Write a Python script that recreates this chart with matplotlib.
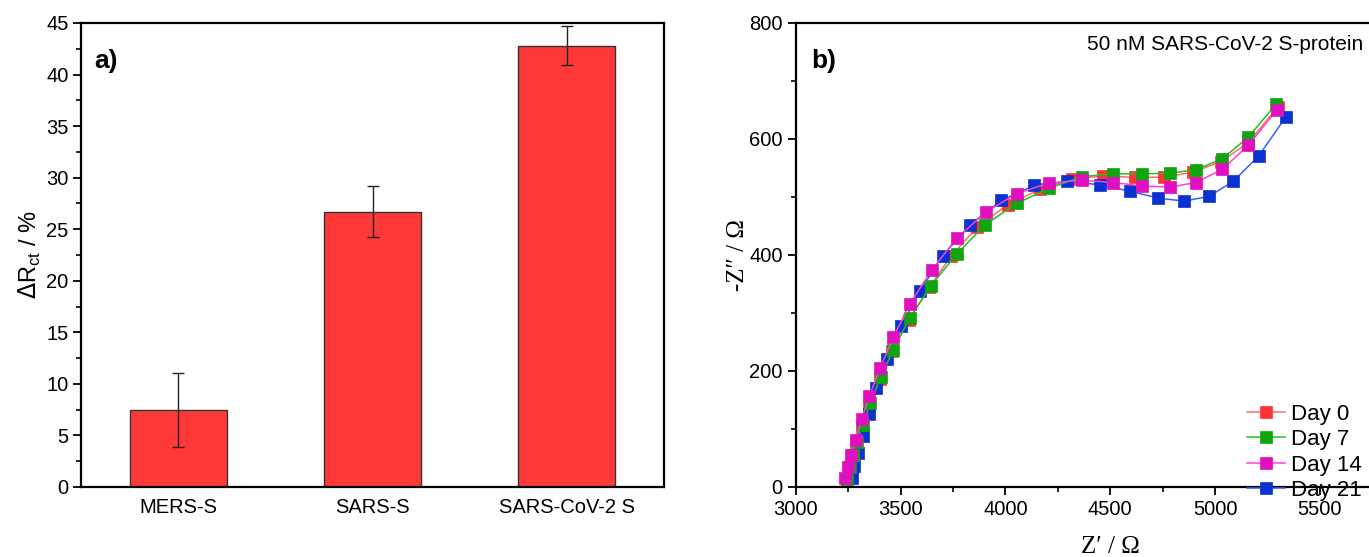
import matplotlib
matplotlib.use("Agg")
import matplotlib.pyplot as plt
from matplotlib.ticker import MultipleLocator, FixedLocator

# ---- data ----
categories = ["MERS-S", "SARS-S", "SARS-CoV-2 S"]
delta_rct = [7.5, 26.7, 42.8]
delta_err = [3.6, 2.5, 1.9]

day0_x = [3243, 3256, 3268, 3287, 3314, 3351, 3401, 3460, 3539, 3637, 3740, 3866, 4011, 4165, 4319, 4467, 4618, 4758, 4896, 5029, 5159, 5299]
day0_y = [12, 32, 52, 75, 104, 142, 187, 235, 288, 344, 398, 448, 487, 513, 531, 536, 534, 534, 543, 561, 594, 655]
day7_x = [3245, 3258, 3271, 3290, 3319, 3354, 3405, 3465, 3545, 3645, 3768, 3903, 4054, 4208, 4364, 4512, 4653, 4785, 4909, 5035, 5159, 5291]
day7_y = [14, 35, 55, 78, 107, 144, 189, 237, 292, 347, 402, 452, 489, 515, 535, 540, 540, 541, 547, 566, 603, 660]
day14_x = [3235, 3250, 3263, 3286, 3314, 3351, 3402, 3465, 3545, 3648, 3768, 3907, 4054, 4208, 4364, 4512, 4653, 4785, 4909, 5035, 5159, 5294]
day14_y = [15, 34, 55, 81, 117, 157, 205, 258, 316, 374, 429, 474, 506, 524, 529, 525, 519, 517, 525, 548, 589, 650]
day21_x = [3268, 3279, 3295, 3319, 3347, 3385, 3434, 3502, 3593, 3701, 3832, 3979, 4138, 4296, 4451, 4595, 4730, 4852, 4971, 5087, 5209, 5338]
day21_y = [16, 36, 59, 88, 126, 170, 220, 277, 338, 399, 452, 494, 520, 527, 521, 510, 498, 493, 501, 527, 571, 638]
zre_ticks = [3000, 3500, 4000, 4500, 5000, 5500]

plt.rcParams['font.family'] = ['Liberation Sans', 'DejaVu Sans']

W, H = 1369, 557
fig = plt.figure(figsize=(W / 100, H / 100), dpi=100)
TL = 14.5

# ---- panel a ----
ax1 = fig.add_axes([81 / W, 1 - 487 / H, 583 / W, 464 / H])
pos = [1, 2, 3]
ax1.bar(pos, delta_rct, width=0.5, color="#FF3838", edgecolor="#333333", linewidth=1.0, zorder=2)
ax1.errorbar(pos, delta_rct, yerr=delta_err, fmt="none", ecolor="#222222", elinewidth=1.0, capsize=4, capthick=1.0, zorder=3)
ax1.set_xlim(0.5, 3.5)
ax1.set_ylim(0, 45)
ax1.set_xticks(pos)
ax1.set_xticklabels(categories)
ax1.yaxis.set_major_locator(MultipleLocator(5))
ax1.yaxis.set_minor_locator(MultipleLocator(2.5))
ax1.tick_params(axis="x", length=0, labelsize=TL, pad=8)
ax1.tick_params(axis="y", which="major", length=6, width=1.3, labelsize=TL, direction="out", pad=3)
ax1.tick_params(axis="y", which="minor", length=3.5, width=1.2, direction="out")
for s in ax1.spines.values():
    s.set_linewidth(1.6)
ax1.set_ylabel(r"$\Delta$R$_{\mathregular{ct}}$ / %", fontsize=17, labelpad=2)
ax1.text(0.022, 0.945, "a)", transform=ax1.transAxes, fontsize=19, fontweight="bold", va="top", ha="left")

# ---- panel b ----
xpx = 3000 * 0.2096
ax2 = fig.add_axes([795.8 / W, 1 - 487 / H, xpx / W, 464 / H])
series = [
    (day0_x, day0_y, "#FF6B6B", "#FF3333", "Day 0", 2),
    (day21_x, day21_y, "#3D5CFF", "#0A32D0", "Day 21", 3),
    (day7_x, day7_y, "#22C022", "#0EA50E", "Day 7", 4),
    (day14_x, day14_y, "#FF40D8", "#E010BE", "Day 14", 5),
]
handles = {}
for xs, ys, lc, mc, lab, z in series:
    h, = ax2.plot(xs, ys, color=lc, linewidth=1.1, marker="s", markersize=8,
                  markerfacecolor=mc, markeredgecolor=mc, markeredgewidth=0.5, label=lab, zorder=z)
    handles[lab] = h
ax2.set_xlim(3000, 6000)
ax2.set_ylim(0, 800)
ax2.xaxis.set_major_locator(FixedLocator(zre_ticks))
ax2.xaxis.set_minor_locator(MultipleLocator(250))
ax2.yaxis.set_major_locator(MultipleLocator(200))
ax2.yaxis.set_minor_locator(MultipleLocator(100))
ax2.tick_params(which="major", length=6, width=1.3, labelsize=TL, direction="out")
ax2.tick_params(which="minor", length=3.5, width=1.2, direction="out")
for s in ax2.spines.values():
    s.set_linewidth(1.6)
ax2.set_xlabel("Z\u2032 / \u03a9", fontsize=18, family=["Liberation Serif", "DejaVu Serif"], labelpad=12)
ax2.set_ylabel("-Z\u2033 / \u03a9", fontsize=18, family=["Liberation Serif", "DejaVu Serif"], labelpad=0)
ax2.text(0.025, 0.945, "b)", transform=ax2.transAxes, fontsize=19, fontweight="bold", va="top", ha="left")
fig.text(1363 / W, 1 - 44 / H, "50 nM SARS-CoV-2 S-protein", fontsize=15, ha="right", va="center")

order = ["Day 0", "Day 7", "Day 14", "Day 21"]
fig.legend([handles[k] for k in order], order, loc="lower right",
           bbox_to_anchor=(1362 / W, 1 - 501 / H), frameon=False, fontsize=16,
           handlelength=1.7, handletextpad=0.3, labelspacing=0.2, borderaxespad=0.0,
           borderpad=0.0)

fig.savefig("out.png", dpi=100)
